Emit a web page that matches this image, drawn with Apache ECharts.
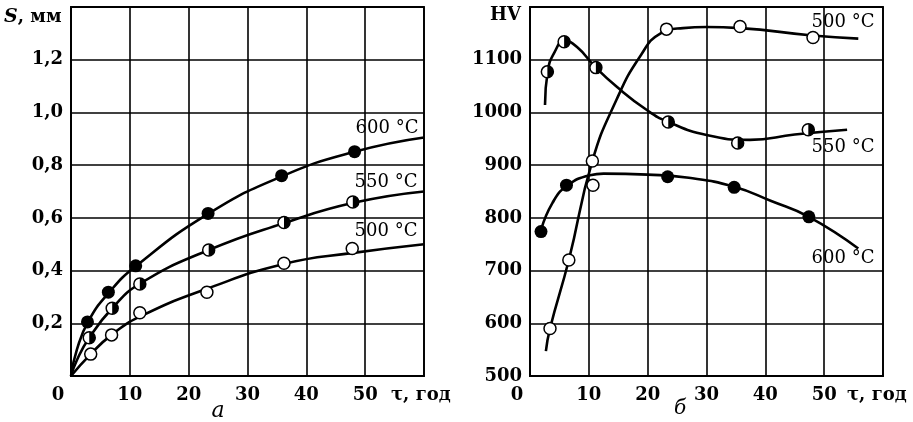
<!DOCTYPE html>
<html>
<head>
<meta charset="utf-8">
<script src="https://cdn.jsdelivr.net/npm/echarts@6/dist/echarts.min.js"></script>
<style>
  html, body { margin: 0; padding: 0; background: #fff; }
  #chart { width: 913px; height: 422px; }
</style>
</head>
<body>
<div id="chart"></div>
<script>
// ---- data ----
// панель а: товщина шару S (мм) від часу τ (год)
const sCurve600 = [[0,0],[1,0.1],[3,0.21],[6.4,0.315],[11,0.416],[23.3,0.615],[35.8,0.757],[48.2,0.851],[60,0.905]];
const sCurve550 = [[0,0],[1,0.06],[3.1,0.145],[7,0.257],[11.7,0.35],[23.4,0.478],[36.2,0.58],[48,0.657],[60,0.70]];
const sCurve500 = [[0,0],[3.35,0.083],[6.9,0.156],[11.7,0.225],[23,0.33],[36.2,0.425],[48,0.467],[60,0.50]];
const sPts600 = [[2.8,0.205],[6.35,0.318],[11,0.418],[23.3,0.617],[35.8,0.76],[48.2,0.851]];
const sPts550 = [[3.1,0.145],[7,0.257],[11.7,0.349],[23.4,0.478],[36.2,0.582],[47.9,0.66]];
const sPts500 = [[3.35,0.083],[6.9,0.156],[11.7,0.24],[23.1,0.318],[36.2,0.428],[47.8,0.484]];

// панель б: твердість HV від часу τ (год)
const hvCurve500 = [[2.7,547],[3.4,590],[6.6,720],[10.6,908],[14.7,1024],[18.7,1106],[22.2,1150],[26,1160],[30,1162],[35.7,1160],[48,1146],[55.8,1140]];
const hvCurve550 = [[2.55,1014],[3,1077],[4.2,1115],[5.9,1136],[8,1124],[11.2,1085],[14.7,1049],[19.8,1005],[23.5,982],[30,957],[37.4,948],[45,958],[53.9,967]];
const hvCurve600 = [[1.9,778],[3.8,828],[6.2,860],[10.2,881],[12.5,884],[20,882],[27,876],[34.7,859],[41,832],[47.4,802],[55.8,742]];
const hvPts500 = [[3.4,590],[6.6,720],[10.6,908],[10.7,862],[23.2,1158],[35.7,1163],[48.1,1142]];
const hvPts550 = [[2.95,1077],[5.8,1134],[11.2,1085],[23.5,982],[35.3,942],[47.3,967]];
const hvPts600 = [[1.87,774],[6.2,862],[23.4,878],[34.7,858],[47.4,802]];

const SERIF = '"DejaVu Serif", serif';
const halfDisk = 'path://M0,-10 A10,10 0 0 1 0,10 Z';

function xAxisCfg(gridIndex) {
  return {
    type: 'value', gridIndex: gridIndex, min: 0, max: 60, interval: 10,
    axisLine: { lineStyle: { color: '#000', width: 1.8 } },
    axisTick: { show: false },
    splitLine: { show: true, lineStyle: { color: '#000', width: 1.6 } },
    axisLabel: {
      color: '#000', fontFamily: SERIF, fontWeight: 'bold', fontSize: 18, margin: 10,
      formatter: function (v) { return v === 60 ? '' : (v === 0 ? '{z|0}' : String(v)); },
      rich: { z: { fontFamily: SERIF, fontWeight: 'bold', fontSize: 18, color: '#000', padding: [0, 26, 0, 0] } }
    }
  };
}

function lineS(data, xi) {
  return { type: 'line', xAxisIndex: xi, yAxisIndex: xi, data: data, smooth: 0.5,
    showSymbol: false, lineStyle: { color: '#000', width: 2.6 }, z: 3, silent: true };
}
function openPts(data, xi) {
  return { type: 'scatter', xAxisIndex: xi, yAxisIndex: xi, data: data, symbol: 'circle', symbolSize: 12,
    itemStyle: { color: '#fff', borderColor: '#000', borderWidth: 1.5, opacity: 1 }, z: 5 };
}
function fullPts(data, xi) {
  return { type: 'scatter', xAxisIndex: xi, yAxisIndex: xi, data: data, symbol: 'circle', symbolSize: 13,
    itemStyle: { color: '#000', opacity: 1 }, z: 5 };
}
function halfPts(data, xi) {
  return { type: 'scatter', xAxisIndex: xi, yAxisIndex: xi, data: data, symbol: halfDisk, symbolSize: [6, 12],
    symbolOffset: [3, 0], itemStyle: { color: '#000', opacity: 1 }, z: 6 };
}

function txt(x, y, text, opt) {
  return Object.assign({ type: 'text', x: x, y: y, z: 10,
    style: Object.assign({ text: text, fill: '#000', font: '18px ' + SERIF, textAlign: 'left', textVerticalAlign: 'middle' }, opt || {}) });
}

const chart = echarts.init(document.getElementById('chart'));
chart.setOption({
  animation: false,
  backgroundColor: '#fff',
  grid: [
    { left: 71, top: 7, width: 353, height: 369, show: true, borderColor: '#000', borderWidth: 1.8 },
    { left: 530, top: 7, width: 353, height: 369, show: true, borderColor: '#000', borderWidth: 1.8 }
  ],
  xAxis: [xAxisCfg(0), xAxisCfg(1)],
  yAxis: [
    {
      type: 'value', gridIndex: 0, min: 0, max: 1.4, interval: 0.2,
      axisLine: { lineStyle: { color: '#000', width: 1.8 } },
      axisTick: { show: false },
      splitLine: { lineStyle: { color: '#000', width: 1.6 } },
      axisLabel: { color: '#000', fontFamily: SERIF, fontWeight: 'bold', fontSize: 18, margin: 8,
        formatter: function (v) { return (v < 0.01 || v > 1.3) ? '' : v.toFixed(1).replace('.', ','); } }
    },
    {
      type: 'value', gridIndex: 1, min: 500, max: 1200, interval: 100,
      axisLine: { lineStyle: { color: '#000', width: 1.8 } },
      axisTick: { show: false },
      splitLine: { lineStyle: { color: '#000', width: 1.6 } },
      axisLabel: { color: '#000', fontFamily: SERIF, fontWeight: 'bold', fontSize: 18, margin: 8,
        formatter: function (v) { return v === 1200 ? '' : String(v); } }
    }
  ],
  series: [
    lineS(sCurve600, 0), lineS(sCurve550, 0), lineS(sCurve500, 0),
    fullPts(sPts600, 0), openPts(sPts550, 0), halfPts(sPts550, 0), openPts(sPts500, 0),
    lineS(hvCurve500, 1), lineS(hvCurve550, 1), lineS(hvCurve600, 1),
    openPts(hvPts500, 1), openPts(hvPts550, 1), halfPts(hvPts550, 1), fullPts(hvPts600, 1)
  ],
  graphic: [
    { type: 'text', x: 4, y: 17, z: 10, style: { text: '{i|S}{b|, мм}', textVerticalAlign: 'middle',
      rich: { i: { font: 'italic bold 19px ' + SERIF, fill: '#000' }, b: { font: 'bold 18px ' + SERIF, fill: '#000' } } } },
    txt(490, 15, 'HV', { font: 'bold 18px ' + SERIF }),
    txt(391, 395, 'τ, год', { font: 'bold 18px ' + SERIF }),
    txt(847, 395, 'τ, год', { font: 'bold 18px ' + SERIF }),
    txt(218, 411, 'а', { font: 'italic 22px ' + SERIF, textAlign: 'center' }),
    txt(680, 409, 'б', { font: 'italic 20px ' + SERIF, textAlign: 'center' }),
    txt(387, 128, '600 °C', { textAlign: 'center' }),
    txt(386, 182, '550 °C', { textAlign: 'center' }),
    txt(386, 231, '500 °C', { textAlign: 'center' }),
    txt(843, 22, '500 °C', { textAlign: 'center' }),
    txt(843, 147, '550 °C', { textAlign: 'center' }),
    txt(843, 258, '600 °C', { textAlign: 'center' })
  ]
});
</script>
</body>
</html>
